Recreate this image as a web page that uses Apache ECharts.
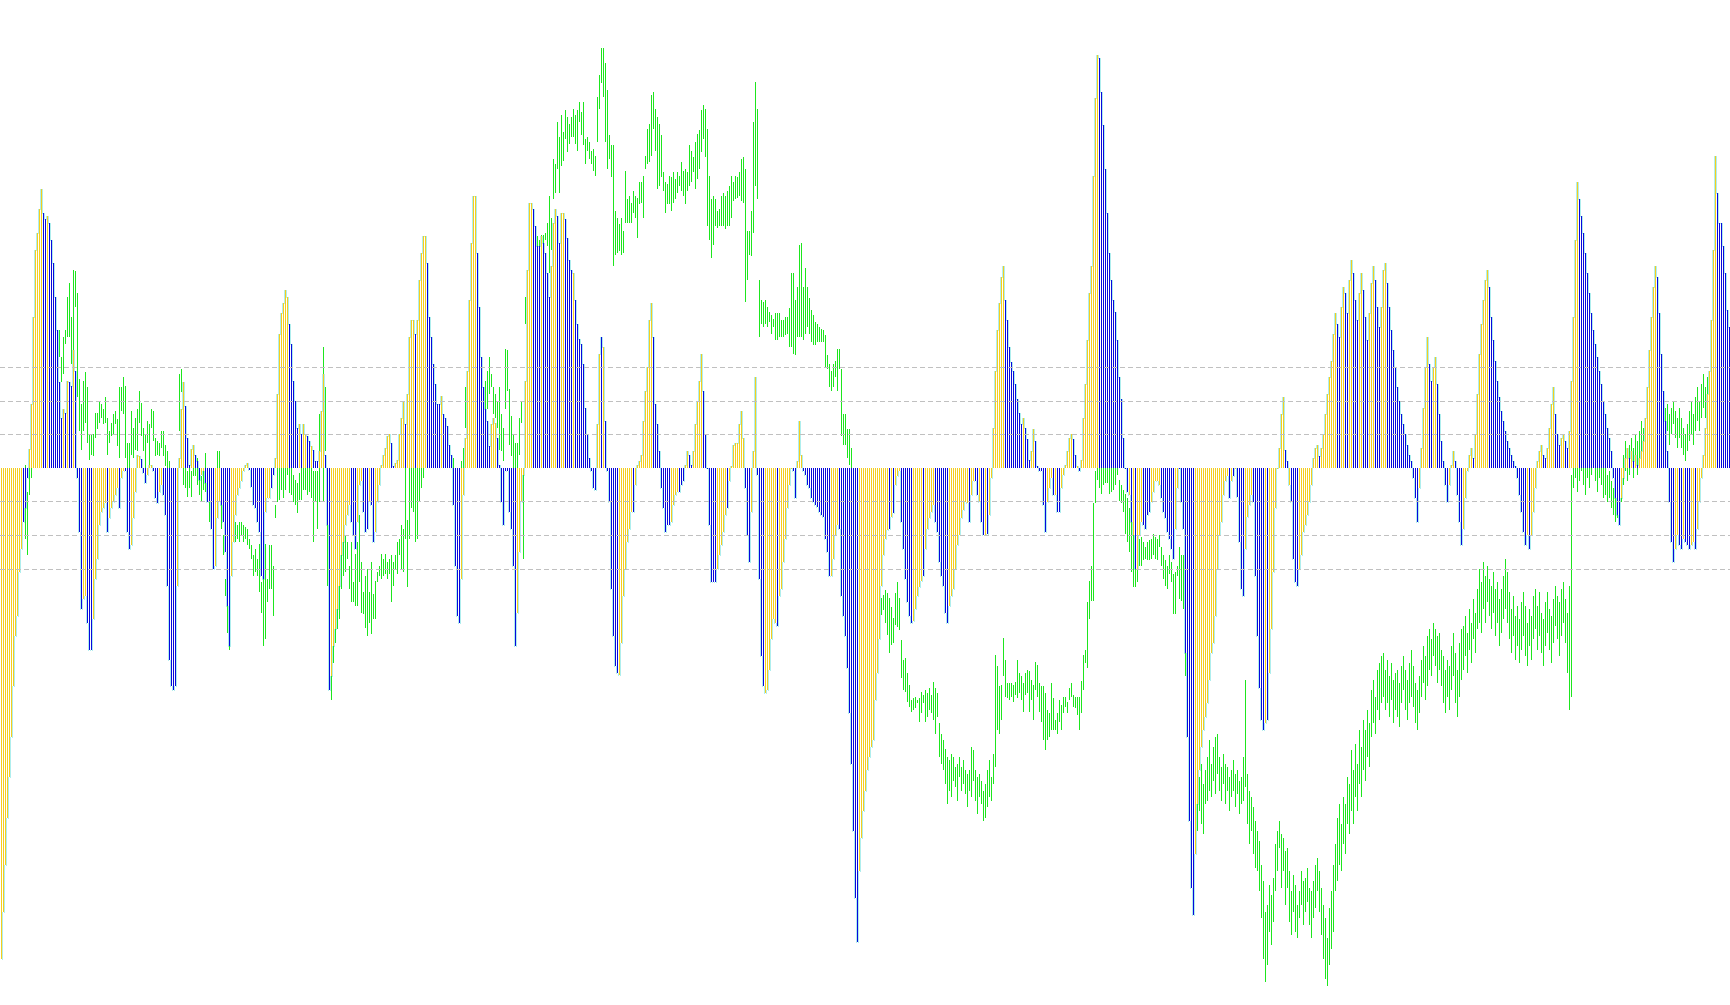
<!DOCTYPE html>
<html><head><meta charset="utf-8">
<script src="https://cdn.jsdelivr.net/npm/echarts@6/dist/echarts.min.js"></script>
<style>html,body{margin:0;padding:0;background:#fff;overflow:hidden}#c{width:1730px;height:1005px}</style>
</head><body><div id="c"></div>
<script>
// Oscillator histogram values (one per bar)
const histValues = [
/*0*/ -14.6,-13.2,-11.8,-10.4,-9.2,-8.0,-6.5,-5.0,-4.4,-3.1,
/*10*/ -2.4,-1.6,-1.2,-0.3,0.56,1.9,4.5,6.5,7.0,7.7,
/*20*/ 8.3,7.6,7.4,7.5,7.3,6.8,6.1,5.1,4.1,2.55,
/*30*/ 1.5,1.75,1.65,2.6,2.55,2.45,3.5,2.9,-0.3,-1.9,
/*40*/ -4.2,-3.9,-3.8,-4.6,-5.4,-5.4,-4.5,-3.3,-2.7,-1.7,
/*50*/ -1.3,-1.2,-1.05,-1.9,-1.5,-1.2,-1.0,-0.8,-0.6,-1.2,
/*60*/ -0.3,-0.1,-0.1,-1.9,-2.4,-2.3,-1.5,-0.7,0.4,0.35,
/*70*/ 0.26,-0.15,-0.45,-0.2,0.1,0.1,-0.1,-0.9,-1.05,-0.7,
/*80*/ -0.5,-0.8,-1.4,-3.5,-5.7,-6.5,-6.6,-6.5,-3.5,0.3,
/*90*/ 1.75,2.55,1.85,0.9,0.1,0.56,0.7,0.4,0.2,-0.37,
/*100*/ -0.2,-0.1,-0.45,-1.0,-1.0,-1.8,-3.0,-2.9,-1.5,-1.0,
/*110*/ -1.1,-1.6,-2.5,-4.1,-5.3,-3.2,-2.2,-1.4,-0.8,-0.6,
/*120*/ -0.4,-0.1,0.1,0.15,-0.05,-0.55,-1.1,-1.2,-1.6,-1.9,
/*130*/ -3.2,-3.3,-1.3,-0.9,-0.9,-0.6,-0.2,0.3,2.2,4.0,
/*140*/ 4.6,4.9,5.3,5.1,4.3,3.7,2.6,2.0,1.2,1.3,
/*150*/ 1.0,1.3,1.0,0.95,0.8,0.65,0.55,0.2,0.2,0.5,
/*160*/ 1.7,2.8,0.4,-1.7,-6.6,-6.2,-5.3,-4.8,-4.2,-3.5,
/*170*/ -2.6,-2.2,-1.7,-1.4,-1.1,-1.6,-2.0,-2.4,-1.6,-0.5,
/*180*/ -0.4,-1.3,-1.9,-1.8,-1.0,-1.1,-2.2,-1.9,-1.0,-0.5,
/*190*/ 0.1,0.4,0.6,0.95,1.0,0.75,0.05,0.15,0.25,1.0,
/*200*/ 1.5,2.0,1.3,2.2,3.9,4.4,4.4,4.0,4.4,5.6,
/*210*/ 6.4,6.9,6.9,6.1,4.5,3.9,3.1,2.5,1.9,1.9,
/*220*/ 2.15,1.6,1.5,1.25,0.7,0.4,-1.1,-2.9,-4.4,-4.6,
/*230*/ -3.3,-0.8,0.9,2.9,5.0,6.7,8.1,8.1,6.4,4.8,
/*240*/ 3.3,2.4,1.75,1.4,0.66,1.3,1.5,1.35,0.9,0.1,
/*250*/ -1.0,-1.7,-0.1,-0.1,-1.3,-1.8,-2.9,-5.3,-4.3,-2.5,
/*260*/ -1.0,-0.2,2.6,5.9,7.9,7.9,7.7,7.2,6.6,6.6,
/*270*/ 6.9,6.7,6.4,5.8,5.1,6.0,7.3,7.7,7.5,6.7,
/*280*/ 7.6,7.6,7.4,6.85,6.2,5.9,5.8,5.0,4.3,3.85,
/*290*/ 3.7,3.1,1.8,1.0,0.3,-0.1,-0.6,-0.65,1.3,3.4,
/*300*/ 3.9,3.6,1.4,-0.1,-1.0,-3.6,-5.0,-5.9,-6.1,-6.15,
/*310*/ -5.2,-3.8,-3.0,-2.2,-1.8,-1.3,-1.3,-0.5,0.1,0.2,
/*320*/ 0.4,1.4,2.3,3.0,4.4,4.9,3.9,1.9,1.3,0.5,
/*330*/ -0.6,-1.2,-1.9,-1.7,-1.7,-1.6,-1.1,-0.8,-0.7,-0.7,
/*340*/ -0.5,-0.4,0.1,0.5,0.4,0.1,0.5,1.3,2.0,2.6,
/*350*/ 3.4,2.3,1.0,0.0,-1.7,-3.4,-3.4,-3.4,-3.0,-2.6,
/*360*/ -2.3,-1.9,-1.4,-1.2,-0.4,0.05,0.7,0.75,0.75,1.3,
/*370*/ 1.7,0.9,-0.6,-2.0,-2.8,-1.3,0.5,2.7,-0.2,-3.3,
/*380*/ -5.6,-6.5,-6.7,-6.6,-6.0,-5.1,-4.5,-4.6,-4.7,-3.8,
/*390*/ -3.6,-2.8,-2.1,-1.2,-0.5,0.0,-0.1,-0.9,0.2,1.4,
/*400*/ 0.4,-0.1,-0.2,-0.5,-0.6,-0.9,-1.0,-1.1,-1.15,-1.3,
/*410*/ -1.4,-1.45,-2.1,-2.5,-3.2,-3.2,-2.7,-2.0,-1.7,-1.8,
/*420*/ -3.8,-4.4,-5.0,-5.95,-7.3,-8.8,-10.8,-12.8,-14.1,-12.0,
/*430*/ -11.0,-10.2,-9.6,-9.0,-8.6,-8.3,-8.1,-6.9,-6.1,-5.1,
/*440*/ -3.5,-2.6,-2.1,-1.85,-1.8,-1.45,-1.35,-0.5,-0.25,-0.1,
/*450*/ -1.6,-2.4,-3.3,-4.0,-4.4,-4.6,-4.55,-4.2,-3.8,-3.55,
/*460*/ -3.35,-3.2,-2.4,-1.8,-1.5,-1.3,-1.1,-1.6,-1.9,-2.8,
/*470*/ -3.2,-3.5,-4.3,-4.6,-4.1,-3.8,-3.6,-3.0,-2.3,-2.0,
/*480*/ -1.5,-1.25,-1.0,-1.05,-1.6,-0.8,-0.4,-0.4,-0.8,-1.0,
/*490*/ -1.6,-2.0,-2.0,-1.95,-1.4,-0.3,1.2,2.9,4.1,4.9,
/*500*/ 5.7,6.0,5.0,4.4,3.6,3.15,2.9,2.5,2.05,1.65,
/*510*/ 1.3,1.5,1.2,0.85,0.25,0.5,1.15,0.8,0.05,-0.1,
/*520*/ -0.1,-1.1,-1.9,-1.0,-0.6,-0.3,-0.8,-0.8,-1.3,-1.3,
/*530*/ -0.6,-0.2,0.1,0.5,0.9,1.0,0.85,0.4,0.05,-0.1,
/*540*/ 0.25,1.5,2.5,3.8,5.2,6.0,8.7,11.0,12.3,12.2,
/*550*/ 11.2,10.2,8.9,7.6,6.4,5.6,5.0,4.65,3.8,2.7,
/*560*/ 2.05,0.9,0.0,-0.7,-0.8,-1.6,-2.0,-3.0,-3.0,-2.0,
/*570*/ -1.6,-1.7,-1.8,-1.4,-1.3,-1.0,-0.7,-0.4,-0.4,-0.5,
/*580*/ -0.9,-1.3,-1.5,-1.9,-2.1,-2.4,-2.7,-1.8,-0.6,0.0,
/*590*/ -1.0,-1.8,-5.5,-8.0,-10.5,-12.5,-13.3,-11.5,-10.0,-9.0,
/*600*/ -8.3,-7.8,-7.4,-7.0,-6.3,-5.5,-5.2,-4.4,-3.0,-2.0,
/*610*/ -1.6,-0.8,-0.4,-0.25,-0.9,-0.4,-0.25,0.0,-0.85,-2.2,
/*620*/ -3.6,-3.8,-2.4,-1.45,-1.1,-0.8,-1.0,-3.2,-5.0,-6.55,
/*630*/ -7.5,-7.8,-7.6,-7.5,-6.1,-4.8,-3.1,-1.2,0.0,0.6,
/*640*/ 1.6,2.1,0.55,0.2,-0.5,-1.0,-2.7,-3.4,-3.5,-3.0,
/*650*/ -2.6,-1.9,-1.7,-1.4,-1.0,-0.5,0.3,0.6,0.7,0.35,
/*660*/ 0.6,1.0,1.6,2.2,2.7,3.2,4.0,4.6,4.3,3.9,
/*670*/ 4.8,5.4,5.2,4.6,5.6,6.2,5.8,5.0,4.4,5.2,
/*680*/ 5.8,5.3,4.5,3.8,4.6,5.5,6.0,5.6,4.8,4.2,
/*690*/ 4.8,5.9,6.1,5.5,4.8,4.1,3.5,3.0,2.4,2.0,
/*700*/ 1.6,1.3,1.0,0.7,0.4,0.2,-0.3,-0.9,-1.6,-0.6,
/*710*/ 0.6,1.8,3.0,3.9,3.1,2.6,3.0,3.3,2.5,1.6,
/*720*/ 0.8,0.2,-0.5,-1.0,-0.5,0.1,0.5,0.2,-0.8,-1.6,
/*730*/ -2.3,-1.8,-0.9,-0.1,0.4,0.6,0.3,1.0,2.2,3.4,
/*740*/ 4.3,5.0,5.6,5.9,5.4,4.5,3.8,3.2,2.6,2.1,
/*750*/ 1.7,1.4,1.1,0.8,0.6,0.4,0.2,0.05,-0.3,-0.8,
/*760*/ -1.3,-1.9,-2.3,-2.0,-2.4,-2.0,-1.3,-0.6,0.2,0.5,
/*770*/ 0.7,0.4,0.3,0.6,1.2,1.9,2.4,1.6,1.0,0.7,
/*780*/ 0.9,1.0,0.8,0.6,1.1,2.6,4.5,6.8,8.5,8.0,
/*790*/ 7.5,7.0,6.4,5.8,5.2,4.6,4.1,3.7,3.3,2.9,
/*800*/ 2.5,2.0,1.6,1.2,0.9,0.5,-0.3,-0.9,-1.4,-1.7,
/*810*/ -0.9,-0.3,0.3,0.6,0.3,0.5,0.2,0.4,0.1,0.3,
/*820*/ 0.5,0.8,1.5,2.4,3.5,4.5,5.4,6.0,5.7,4.6,
/*830*/ 3.4,2.3,1.4,0.5,-1.0,-2.2,-2.8,-2.4,-2.0,-2.3,
/*840*/ -2.4,-2.1,-2.2,-2.3,-2.4,-2.3,-2.2,-2.4,-1.8,-1.0,
/*850*/ -0.3,0.4,1.2,2.2,2.9,4.4,6.5,9.3,8.2,7.3,
/*860*/ 7.3,6.6,5.8,4.7,4.2
];
// Bar colour: 1 = yellow, 0 = blue
const histColors = [
/*0*/ 1,1,1,1,1,1,1,1,1,1, 1,0,0,0,1,1,1,1,1,1, 1,0,0,1,0,0,0,0,0,0, 0,1,0,1,0,0,1,0,0,0,
/*40*/ 0,1,1,0,0,0,1,1,1,1, 1,1,1,0,1,1,1,1,1,0, 1,1,0,0,0,1,1,1,1,1, 0,0,0,1,1,1,0,0,0,1,
/*80*/ 1,0,0,0,0,0,0,0,1,1, 1,1,0,0,0,1,1,0,0,0, 1,1,0,0,0,0,0,1,1,1, 0,0,0,0,0,1,1,1,1,1,
/*120*/ 1,1,1,1,0,0,0,0,0,0, 0,0,1,1,1,0,0,1,1,1, 1,1,1,1,0,0,0,0,0,1, 0,1,1,0,0,1,0,0,0,1,
/*160*/ 1,1,0,0,0,1,1,1,1,1, 1,1,1,1,1,0,0,0,1,1, 1,0,0,0,1,0,0,1,1,1, 1,1,1,1,1,0,0,1,1,1,
/*200*/ 1,1,0,1,1,1,1,0,1,1, 1,1,1,0,0,0,0,0,0,0, 1,0,0,0,0,0,0,0,0,0, 1,1,1,1,1,1,1,1,0,0,
/*240*/ 0,0,0,0,0,1,1,1,0,0, 0,0,0,0,0,0,0,0,1,1, 1,1,1,1,1,1,0,0,0,0, 1,0,0,0,0,1,1,1,0,0,
/*280*/ 1,1,0,0,0,0,1,0,0,0, 0,0,0,0,0,0,0,0,1,1, 0,1,0,0,0,0,0,0,0,1, 1,1,1,1,1,1,0,1,1,1,
/*320*/ 1,1,1,1,1,1,0,0,0,0, 0,0,0,0,0,1,1,1,1,0, 0,0,1,1,0,0,1,1,1,1, 1,0,0,0,0,0,0,0,1,1,
/*360*/ 1,1,1,0,1,1,1,1,1,1, 1,1,0,0,0,1,1,1,0,0, 0,0,1,1,1,1,1,1,0,1, 1,1,1,1,1,1,0,0,1,1,
/*400*/ 1,0,0,0,0,0,0,0,0,0, 0,0,0,0,0,1,1,1,1,0, 0,0,0,0,0,0,0,0,0,1, 1,1,1,1,1,1,1,1,1,1,
/*440*/ 1,1,1,1,0,1,0,1,1,1, 0,0,0,0,0,0,1,1,1,1, 1,0,1,1,1,1,1,0,0,0, 0,0,0,0,1,1,1,1,1,1,
/*480*/ 1,1,1,1,0,1,1,0,0,1, 0,0,1,0,1,1,1,1,1,1, 1,1,0,0,0,0,0,0,0,0, 0,1,0,0,0,1,1,0,0,0,
/*520*/ 0,0,0,1,1,1,0,1,0,0, 1,1,1,1,1,1,0,0,1,0, 1,1,1,1,1,1,1,1,1,0, 0,0,0,0,0,0,0,0,0,0,
/*560*/ 0,0,0,0,1,0,1,0,1,1, 1,0,0,0,0,1,1,1,1,1, 0,0,0,0,0,0,0,1,1,0, 0,0,0,0,0,0,0,1,1,1,
/*600*/ 1,1,1,1,1,1,1,1,1,1, 1,1,1,1,0,1,0,1,0,0, 0,0,1,1,1,1,0,0,0,0, 0,0,1,0,1,1,1,1,1,1,
/*640*/ 1,1,0,0,1,0,0,0,0,1, 1,1,1,1,1,1,1,1,1,0, 1,1,1,1,1,1,1,1,0,0, 1,1,0,0,1,1,0,0,0,1,
/*680*/ 1,0,0,0,1,1,1,0,0,0, 1,1,1,0,0,0,0,0,0,0, 0,0,0,0,0,0,0,0,0,1, 1,1,1,1,0,0,1,1,0,0,
/*720*/ 0,0,0,0,1,1,1,0,0,0, 0,1,1,1,1,1,0,1,1,1, 1,1,1,1,0,0,0,0,0,0, 0,0,0,0,0,0,0,0,0,0,
/*760*/ 0,0,0,1,0,1,1,1,1,1, 1,0,0,1,1,1,1,0,0,0, 1,1,0,0,1,1,1,1,1,0, 0,0,0,0,0,0,0,0,0,0,
/*800*/ 0,0,0,0,0,0,0,0,0,0, 1,1,1,1,0,1,0,1,0,1, 1,1,1,1,1,1,1,1,0,0, 0,0,0,0,0,0,0,1,1,0,
/*840*/ 0,1,0,0,0,1,1,0,1,1, 1,1,1,1,1,1,1,1,0,0, 0,0,0,0,0
];
// Price bars (low, high) in the same vertical units; null = no bar
const priceBars = [
/*0*/ null,null,null,null,null,null,null,null,null,null,
/*10*/ null,null,[-2.1,0.1],[-2.6,-0.7],[-0.8,0.0],[-0.3,0.1],[0.2,1.0],[0.8,1.8],[1.5,2.6],[1.8,3.0],
/*20*/ [2.2,3.2],[2.0,3.5],[2.6,3.6],[2.5,3.3],[2.8,3.8],[3.0,4.0],[3.0,3.8],[2.7,3.9],[3.2,4.0],[3.3,4.1],
/*30*/ [2.55,3.3],[2.8,3.9],[3.7,4.1],[3.9,5.1],[3.9,5.5],[3.1,4.5],[2.9,5.9],[4.8,5.85],[2.1,5.2],[1.1,2.65],
/*40*/ [0.55,1.9],[1.1,2.6],[1.35,2.85],[0.75,2.4],[0.25,1.0],[0.4,1.0],[0.35,1.0],[0.9,1.65],[1.15,1.65],[1.35,2.0],
/*50*/ [1.5,1.9],[1.3,1.75],[1.35,2.1],[0.4,1.5],[0.75,1.1],[0.95,1.35],[1.0,1.6],[1.3,1.7],[0.65,1.45],[0.3,2.4],
/*60*/ [1.7,2.4],[1.6,2.7],[0.3,2.45],[0.0,0.75],[0.0,0.75],[0.4,1.7],[0.3,1.2],[0.55,1.5],[0.5,1.75],[1.35,2.3],
/*70*/ [0.95,1.95],[0.5,1.2],[0.0,1.0],[0.75,1.4],[0.1,1.3],[1.2,1.75],[0.8,1.7],[0.35,0.9],[0.4,0.8],[0.35,0.75],
/*80*/ [0.6,1.1],[0.35,1.1],[0.05,0.7],[-0.3,0.5],[-0.6,0.2],[-0.8,0.0],[-1.2,-0.2],[-1.5,-0.4],[-1.7,-0.65],[1.1,2.8],
/*90*/ [2.25,2.95],[-0.5,0.0],[-0.6,0.0],[-0.85,-0.1],[-0.6,0.0],[-0.85,-0.1],[-0.25,0.4],[-0.25,0.4],[-0.5,0.3],[-0.8,-0.25],
/*100*/ [-1.0,-0.25],[-0.65,-0.1],[-0.7,0.45],[-0.95,-0.65],[-1.6,-0.9],[-1.3,-0.6],[-2.2,-1.3],[-2.0,-1.0],[-0.8,0.5],[-0.3,0.5],
/*110*/ [-1.8,-0.8],[-2.6,-2.0],[-3.8,-3.3],[-4.9,-2.8],[-5.4,-3.0],[-3.1,-1.6],[-2.1,-1.6],[-2.2,-1.6],[-2.1,-1.7],[-2.2,-1.6],
/*120*/ [-2.0,-1.6],[-2.2,-1.7],[-2.1,-1.75],[-2.3,-1.8],[-2.4,-2.1],[-2.7,-2.3],[-3.2,-2.6],[-3.1,-2.4],[-3.2,-2.7],[-3.7,-2.25],
/*130*/ [-4.3,-3.4],[-5.3,-2.25],[-5.1,-2.25],[-4.0,-3.3],[-3.6,-2.3],[-3.6,-2.3],[-4.4,-2.9],[-1.5,-1.1],[-1.0,0.0],[-0.95,0.2],
/*140*/ [-0.65,0.3],[-0.9,0.2],[-0.65,0.1],[-0.2,0.4],[-0.75,0.2],[-0.8,0.1],[-1.0,-0.2],[-1.1,-0.35],[-1.35,-0.45],[-0.95,-0.15],
/*150*/ [-0.95,0.0],[-0.65,0.1],[-0.65,0.2],[-0.8,0.1],[-0.7,0.0],[-0.9,0.1],[-2.2,-0.1],[-1.0,-0.1],[-1.8,-0.1],[-1.0,1.6],
/*160*/ [0.0,1.7],[-1.0,3.6],[0.5,2.4],[-3.5,-0.5],[-6.0,-3.0],[-6.9,-4.2],[-5.8,-4.5],[-5.2,-3.5],[-4.8,-3.2],[-4.5,-2.6],
/*170*/ [-3.6,-2.2],[-3.2,-2.0],[-3.1,-2.0],[-2.7,-2.2],[-3.6,-2.9],[-4.0,-2.2],[-4.0,-3.4],[-4.1,-2.55],[-4.1,-2.2],[-3.4,-1.4],
/*180*/ [-4.3,-2.8],[-4.35,-3.7],[-4.75,-3.2],[-5.0,-3.0],[-4.6,-3.7],[-4.95,-2.8],[-4.5,-3.75],[-4.5,-3.35],[-3.4,-3.1],[-3.2,-2.9],
/*190*/ [-3.3,-2.55],[-3.2,-2.7],[-3.15,-2.55],[-3.3,-2.8],[-3.15,-2.7],[-4.0,-2.6],[-3.5,-2.8],[-3.0,-2.6],[-3.15,-2.2],[-2.6,-2.1],
/*200*/ [-3.0,-1.7],[-3.1,-1.8],[-2.1,0.0],[-3.55,-1.55],[-2.1,0.5],[-1.2,0.8],[-1.3,0.9],[-2.2,1.0],[-2.1,1.2],[-1.0,1.5],
/*210*/ [-0.6,2.0],[-0.3,2.5],[0.2,3.0],[0.5,3.2],[0.8,3.5],[1.0,3.2],[1.5,3.0],[1.2,2.4],[1.0,1.8],[0.8,1.6],
/*220*/ [0.9,2.0],[0.6,1.5],[0.5,1.4],[0.3,1.2],[0.1,0.7],[0.0,0.4],[-0.2,0.3],[-0.8,0.0],[-1.0,-0.2],[-0.9,-0.1],
/*230*/ [-0.6,0.2],[-0.2,0.6],[1.2,2.4],[1.5,2.6],[1.8,2.9],[2.0,3.0],[2.2,3.1],[1.9,3.0],[2.1,3.2],[2.3,3.3],
/*240*/ [2.0,3.2],[1.3,2.4],[1.6,2.6],[1.75,2.9],[2.2,3.3],[2.4,2.8],[1.6,2.4],[1.5,2.2],[1.2,2.0],[0.55,2.4],
/*250*/ [0.5,1.6],[0.2,1.2],[1.75,3.55],[2.3,3.5],[0.7,2.35],[0.35,1.55],[0.0,1.0],[0.0,0.75],[0.0,0.75],[0.4,1.5],
/*260*/ [1.35,2.0],[-2.7,0.0],[4.3,5.1],[4.5,5.6],[5.2,6.4],[5.6,6.6],[5.9,6.9],[6.0,7.0],[6.2,6.9],[6.4,6.8],
/*270*/ [6.15,6.95],[6.4,6.95],[6.8,7.0],[6.6,7.3],[5.8,8.1],[6.5,7.45],[8.0,9.2],[8.2,9.05],[8.9,10.3],[8.2,9.85],
/*280*/ [9.0,10.5],[9.15,10.0],[9.8,10.65],[9.4,10.45],[9.65,10.25],[9.85,10.45],[9.85,10.7],[9.65,10.5],[9.45,10.65],[10.3,10.9],
/*290*/ [9.9,10.6],[9.6,10.9],[9.05,9.8],[9.45,9.85],[9.2,9.7],[9.05,9.45],[8.85,9.5],[8.7,9.3],[9.7,11.05],[10.7,11.7],
/*300*/ [11.45,12.5],[11.05,12.5],[9.7,12.05],[8.9,11.25],[9.2,9.9],[8.65,9.6],[6.0,9.6],[6.35,7.65],[6.4,7.45],[6.45,7.25],
/*310*/ [6.35,7.45],[6.4,7.05],[7.3,8.85],[7.3,8.0],[7.3,8.1],[7.3,7.9],[7.6,8.25],[7.45,8.1],[6.85,8.05],[7.85,8.5],
/*320*/ [7.9,8.5],[7.45,8.7],[8.9,9.3],[9.05,10.1],[9.1,10.25],[9.3,11.1],[10.1,11.2],[9.45,10.7],[8.3,10.45],[8.4,10.25],
/*330*/ [8.65,9.9],[8.25,8.8],[7.6,8.5],[7.85,8.45],[7.85,8.7],[7.65,8.65],[7.9,8.8],[8.0,8.6],[8.2,8.8],[8.4,8.7],
/*340*/ [8.25,9.1],[8.1,8.85],[7.85,8.9],[8.25,8.8],[8.4,9.6],[8.5,9.45],[8.8,9.25],[8.3,9.7],[8.6,9.95],[8.9,10.05],
/*350*/ [9.4,10.65],[9.8,10.8],[9.25,10.7],[7.2,10.1],[6.8,8.7],[6.25,8.0],[6.65,8.1],[7.2,8.0],[7.15,7.65],[7.2,7.7],
/*360*/ [7.2,8.1],[7.2,8.2],[7.1,8.1],[7.2,8.25],[7.2,8.4],[7.45,8.7],[7.95,8.5],[8.0,8.7],[8.05,8.65],[8.1,8.8],
/*370*/ [7.95,9.2],[7.9,9.25],[4.95,8.9],[5.6,7.05],[6.35,7.05],[6.3,7.65],[7.0,10.3],[8.4,11.5],[8.0,10.7],[3.9,5.6],
/*380*/ [4.3,5.0],[4.2,4.95],[4.3,5.0],[4.2,4.8],[4.35,4.65],[4.0,4.55],[4.2,4.45],[3.8,4.6],[3.8,4.6],[3.9,4.6],
/*390*/ [3.9,4.4],[3.9,4.4],[3.95,4.5],[4.0,4.5],[3.6,4.75],[3.6,5.8],[3.4,5.8],[3.35,5.0],[3.9,5.4],[3.9,6.65],
/*400*/ [3.9,6.7],[3.8,5.4],[4.0,5.95],[4.2,5.4],[4.0,5.05],[3.75,4.7],[3.65,4.55],[3.65,4.35],[3.75,4.3],[3.75,4.2],
/*410*/ [3.75,4.15],[3.75,4.1],[3.0,3.95],[2.95,3.35],[2.4,3.1],[2.3,2.9],[2.4,3.1],[2.7,3.2],[2.3,3.55],[2.95,3.55],
/*420*/ [0.95,2.95],[0.7,1.6],[0.7,1.6],[0.3,1.15],[0.1,1.15],[-0.5,0.6],[-1.3,-0.2],[-2.0,-0.9],[-2.8,-1.5],[-3.0,-2.0],
/*430*/ [-3.6,-2.4],[-3.8,-2.9],[-4.1,-3.3],[-4.2,-3.4],[-4.4,-3.6],[-4.7,-3.7],[-4.5,-3.5],[-4.9,-3.6],[-4.6,-3.9],[-4.62,-4.32],
/*440*/ [-4.37,-3.88],[-4.23,-3.78],[-4.62,-3.63],[-4.97,-3.73],[-5.5,-3.88],[-5.27,-4.13],[-5.22,-4.47],[-4.67,-3.73],[-4.72,-3.38],[-4.82,-3.88],
/*450*/ [-6.26,-5.12],[-6.6,-5.71],[-6.66,-5.66],[-6.95,-6.11],[-7.1,-6.46],[-7.25,-6.9],[-7.2,-6.85],[-7.15,-6.8],[-7.0,-6.9],[-7.55,-6.85],
/*460*/ [-7.3,-6.65],[-7.0,-6.75],[-7.55,-6.6],[-7.4,-6.68],[-7.2,-6.56],[-7.3,-6.75],[-7.5,-6.36],[-7.9,-6.56],[-7.4,-6.7],[-8.6,-7.6],
/*470*/ [-8.8,-7.9],[-9.0,-8.1],[-9.4,-8.35],[-10.0,-8.6],[-9.6,-8.7],[-9.8,-8.5],[-9.3,-8.6],[-9.5,-8.9],[-9.9,-8.8],[-9.2,-8.6],
/*480*/ [-9.6,-8.9],[-9.4,-8.7],[-9.7,-9.0],[-10.1,-9.1],[-9.6,-9.0],[-9.8,-8.3],[-9.3,-8.4],[-9.9,-9.0],[-10.3,-9.2],[-9.8,-9.1],
/*490*/ [-10.0,-9.3],[-10.5,-9.6],[-10.4,-9.4],[-10.1,-9.0],[-9.8,-8.7],[-9.9,-9.2],[-9.4,-8.5],[-8.9,-5.56],[-7.8,-5.9],[-7.9,-6.5],
/*500*/ [-7.5,-6.46],[-6.2,-5.07],[-6.8,-5.7],[-6.85,-6.39],[-6.9,-6.39],[-6.8,-6.39],[-6.95,-6.46],[-6.75,-6.36],[-6.85,-5.7],[-6.7,-6.1],
/*510*/ [-6.9,-6.2],[-7.25,-6.4],[-6.75,-6.1],[-6.7,-6.0],[-7.25,-6.05],[-6.9,-6.3],[-7.5,-6.46],[-6.6,-5.76],[-6.8,-5.86],[-7.25,-6.4],
/*520*/ [-7.55,-6.5],[-8.1,-6.5],[-8.4,-6.7],[-8.1,-7.2],[-8.0,-7.3],[-7.8,-6.39],[-7.8,-6.85],[-7.8,-7.5],[-7.9,-7.3],[-7.55,-6.9],
/*530*/ [-7.8,-7.05],[-7.3,-6.8],[-7.1,-6.8],[-7.3,-6.95],[-6.9,-6.56],[-6.8,-6.39],[-7.1,-6.75],[-7.15,-6.8],[-7.35,-6.8],[-7.8,-6.8],
/*540*/ [-7.3,-6.35],[-6.6,-5.55],[-5.8,-5.4],[-5.95,-4.0],[-4.5,-3.35],[-3.95,-2.9],[-3.95,-1.05],[-1.05,-0.1],[-0.37,0.5],[-0.6,0.4],
/*550*/ [-0.77,0.3],[-0.5,0.3],[-0.45,0.2],[-0.45,0.2],[-0.77,0.1],[-0.7,0.2],[-0.64,0.2],[-0.5,0.1],[-0.2,0.3],[-0.97,-0.37],
/*560*/ [-1.05,-0.5],[-1.3,-0.64],[-1.95,-0.77],[-2.2,-0.9],[-2.5,-1.2],[-3.1,-1.55],[-3.55,-1.95],[-3.55,-2.75],[-3.4,-3.0],[-2.9,-2.1],
/*570*/ [-2.9,-2.05],[-2.75,-2.2],[-2.7,-2.35],[-2.75,-2.2],[-2.75,-2.15],[-2.7,-2.1],[-2.6,-1.95],[-2.7,-2.05],[-2.75,-2.1],[-2.35,-2.0],
/*580*/ [-2.9,-2.35],[-3.3,-2.6],[-3.5,-2.75],[-3.6,-2.9],[-3.15,-2.6],[-3.4,-2.8],[-4.35,-3.15],[-4.35,-3.1],[-3.2,-2.9],[-3.9,-2.35],
/*590*/ [-3.95,-2.6],[-4.2,-2.6],[-6.2,-5.3],[-7.5,-5.8],[-8.5,-6.5],[-9.8,-7.6],[-10.5,-8.7],[-10.2,-8.4],[-10.8,-8.9],[-10.2,-9.2],
/*600*/ [-10.6,-8.8],[-10.9,-9.4],[-10.0,-9.0],[-9.9,-8.6],[-9.6,-8.1],[-9.8,-8.8],[-9.3,-8.3],[-9.7,-8.0],[-9.1,-7.9],[-9.6,-8.6],
/*610*/ [-9.9,-8.9],[-9.4,-8.5],[-10.0,-8.8],[-9.6,-8.9],[-10.2,-9.2],[-9.8,-9.0],[-9.6,-8.7],[-10.1,-9.1],[-9.7,-9.0],[-10.3,-9.3],
/*620*/ [-10.0,-9.2],[-9.9,-8.6],[-9.5,-6.3],[-10.6,-9.1],[-11.2,-9.6],[-10.8,-9.8],[-11.5,-10.1],[-11.9,-10.5],[-12.0,-10.8],[-12.6,-11.1],
/*630*/ [-13.4,-11.8],[-14.6,-12.3],[-15.3,-13.2],[-14.8,-13.0],[-13.8,-12.4],[-14.2,-12.7],[-13.5,-12.2],[-12.6,-11.2],[-12.0,-10.8],[-11.3,-10.5],
/*640*/ [-12.5,-10.9],[-12.0,-11.0],[-13.0,-11.4],[-12.5,-11.3],[-13.5,-12.0],[-13.9,-12.6],[-13.2,-12.1],[-13.8,-12.4],[-14.0,-13.0],[-13.4,-12.6],
/*650*/ [-13.0,-12.0],[-13.6,-12.3],[-13.2,-12.2],[-12.9,-11.9],[-13.6,-12.5],[-14.0,-12.6],[-13.4,-12.3],[-13.1,-11.8],[-12.6,-11.6],[-13.2,-12.0],
/*660*/ [-13.9,-12.5],[-14.6,-13.0],[-15.2,-13.4],[-15.4,-14.0],[-14.8,-13.1],[-14.3,-12.6],[-13.8,-11.8],[-12.6,-11.2],[-12.3,-10.4],[-11.8,-10.0],
/*670*/ [-12.0,-10.6],[-11.2,-9.8],[-11.5,-10.0],[-10.6,-9.2],[-10.9,-9.4],[-10.2,-8.4],[-10.6,-9.0],[-9.8,-8.2],[-10.2,-8.8],[-9.4,-7.8],
/*680*/ [-9.8,-8.3],[-9.0,-7.5],[-9.3,-7.8],[-8.6,-7.2],[-8.9,-7.6],[-8.0,-6.6],[-7.6,-6.3],[-7.9,-6.8],[-7.2,-6.0],[-7.5,-5.8],
/*690*/ [-7.0,-5.6],[-6.8,-5.5],[-7.2,-6.0],[-7.0,-5.7],[-7.4,-6.2],[-6.9,-5.8],[-7.6,-6.3],[-7.2,-6.1],[-7.4,-6.0],[-7.7,-6.4],
/*700*/ [-7.0,-5.9],[-6.6,-5.6],[-7.2,-6.0],[-7.5,-6.3],[-7.0,-5.8],[-6.8,-5.4],[-7.1,-5.9],[-7.6,-6.4],[-7.8,-6.6],[-7.3,-6.2],
/*710*/ [-6.8,-5.7],[-6.4,-5.3],[-6.9,-5.6],[-6.5,-5.0],[-6.0,-4.8],[-6.2,-5.1],[-5.6,-4.6],[-5.9,-4.8],[-6.4,-5.0],[-6.0,-4.9],
/*720*/ [-6.5,-5.4],[-7.0,-5.6],[-7.3,-6.0],[-6.8,-5.7],[-7.2,-5.9],[-6.6,-5.3],[-6.2,-4.9],[-7.0,-5.5],[-7.4,-6.0],[-6.8,-5.2],
/*730*/ [-6.3,-4.8],[-6.0,-4.7],[-5.6,-4.4],[-6.1,-4.9],[-5.4,-4.2],[-5.8,-4.6],[-5.1,-3.9],[-5.5,-4.3],[-4.8,-3.6],[-4.6,-3.0],
/*740*/ [-4.9,-3.4],[-4.2,-2.8],[-4.6,-3.2],[-4.0,-2.9],[-4.4,-3.3],[-4.8,-3.5],[-4.3,-3.1],[-5.0,-3.6],[-4.6,-3.4],[-5.3,-3.9],
/*750*/ [-4.9,-3.6],[-4.5,-3.2],[-4.2,-2.7],[-4.6,-3.1],[-5.1,-3.7],[-5.5,-4.2],[-5.0,-3.8],[-5.7,-4.4],[-5.3,-4.1],[-5.8,-4.5],
/*760*/ [-5.4,-4.0],[-5.0,-3.7],[-5.6,-4.1],[-5.9,-4.6],[-5.3,-4.2],[-5.7,-4.4],[-5.1,-3.8],[-4.8,-3.6],[-5.4,-4.1],[-5.0,-3.7],
/*770*/ [-5.5,-4.3],[-5.9,-4.5],[-5.3,-4.0],[-4.9,-3.7],[-5.4,-4.2],[-5.8,-4.4],[-5.2,-3.9],[-4.7,-3.5],[-5.1,-3.8],[-5.6,-4.0],
/*780*/ [-5.0,-3.6],[-4.6,-3.4],[-5.2,-3.9],[-6.1,-4.3],[-7.2,-3.5],[-6.8,-0.2],[-0.6,0.4],[-0.3,0.6],[-0.7,0.2],[-0.4,0.5],
/*790*/ [-0.1,0.8],[-0.5,0.3],[-0.8,0.1],[-0.3,0.6],[-0.6,0.4],[-0.2,0.7],[0.0,0.9],[-0.4,0.5],[-0.7,0.2],[-0.3,0.6],
/*800*/ [-0.5,0.4],[-0.9,0.0],[-0.8,0.0],[-1.0,-0.2],[-0.9,-0.1],[-1.2,-0.4],[-1.4,-0.6],[-1.6,-0.7],[-1.5,-0.8],[-1.7,-0.9],
/*810*/ [-1.0,-0.3],[-0.5,0.4],[-0.1,0.8],[-0.4,0.5],[-0.2,0.7],[0.0,0.9],[-0.3,0.6],[0.1,1.0],[-0.2,0.8],[0.2,1.1],
/*820*/ [0.5,1.4],[0.2,1.2],[0.6,1.5],[0.9,1.7],[0.6,1.5],[1.0,1.9],[1.3,2.1],[1.0,1.8],[0.8,1.6],[1.2,2.0],
/*830*/ [1.5,2.3],[1.2,2.1],[0.9,1.8],[1.1,1.9],[0.7,1.6],[1.0,1.8],[1.3,2.0],[0.9,1.7],[0.6,1.5],[0.9,1.8],
/*840*/ [0.6,1.5],[0.4,1.2],[0.2,1.0],[0.5,1.3],[0.8,1.7],[1.0,2.0],[0.7,1.6],[1.1,2.1],[1.4,2.4],[1.1,2.0],
/*850*/ [1.5,2.5],[1.8,2.8],[1.5,2.4],[1.7,2.7],[1.9,2.9],[1.6,2.6],[1.9,2.9],[2.1,3.1],[1.8,2.8],[2.0,3.0],
/*860*/ [1.7,2.6],[1.9,2.9],[2.1,3.2],[1.8,2.8],[2.0,3.0]
];
// Dotted reference levels
const gridLevels = [3, 2, 1, -1, -2, -3];

const COLORS = { up: '#F5CE1E', down: '#0808DC', shade: '#AFEEEE', price: '#1EE61E', grid: '#C0C0C0' };

const N = histValues.length;
const categories = histValues.map((_, i) => String(i));
const histData = histValues.map((v, i) => [i, v, histColors[i]]);
const priceData = [];
priceBars.forEach((p, i) => { if (p) priceData.push([i, p[0], p[1]]); });

function renderHist(params, api) {
  const i = api.value(0), v = api.value(1), c = api.value(2);
  const p0 = api.coord([i, 0]), p1 = api.coord([i, v]);
  const x = Math.floor(p0[0] + 0.01);
  const y0 = Math.round(p0[1]), y1 = Math.round(p1[1]);
  const top = Math.min(y0, y1), h = Math.max(1, Math.abs(y1 - y0));
  const children = [];
  if (i + 1 < N) {
    // light connector in the gap column between this bar's tip and the next one
    const yn = Math.round(api.coord([i + 1, histValues[i + 1]])[1]);
    const a = Math.min(y1, yn), b = Math.max(y1, yn);
    children.push({ type: 'rect', shape: { x: x + 1, y: a, width: 1, height: Math.max(1, b - a + 1) }, style: { fill: COLORS.shade } });
  }
  children.push({ type: 'rect', shape: { x: x, y: top, width: 1, height: h }, style: { fill: c ? COLORS.up : COLORS.down } });
  return { type: 'group', children: children };
}
function renderPrice(params, api) {
  const i = api.value(0);
  const lo = api.coord([i, api.value(1)]), hi = api.coord([i, api.value(2)]);
  const x = Math.floor(lo[0] + 0.01);
  const yt = Math.round(hi[1]), yb = Math.round(lo[1]);
  return { type: 'rect', shape: { x: x, y: yt, width: 1, height: Math.max(1, yb - yt) }, style: { fill: COLORS.price } };
}

const chart = echarts.init(document.getElementById('c'), null, { renderer: 'canvas' });
chart.setOption({
  animation: false,
  backgroundColor: '#ffffff',
  grid: { left: 0, right: 0, top: 0, bottom: 0, containLabel: false },
  xAxis: { type: 'category', data: categories, boundaryGap: true, show: false },
  yAxis: { type: 'value', min: -15.98, max: 13.93, show: false, splitLine: { show: false } },
  series: [
    { type: 'line', data: [], z: 0, silent: true,
      markLine: { silent: true, symbol: 'none', label: { show: false },
        lineStyle: { color: COLORS.grid, width: 1, type: [5, 3] },
        data: gridLevels.map(v => ({ yAxis: v })) } },
    { type: 'custom', name: 'price', renderItem: renderPrice, data: priceData, z: 1, silent: true,
      encode: { x: 0, y: [1, 2] } },
    { type: 'custom', name: 'hist', renderItem: renderHist, data: histData, z: 2, silent: true,
      encode: { x: 0, y: 1 } }
  ]
});
</script>
</body></html>
